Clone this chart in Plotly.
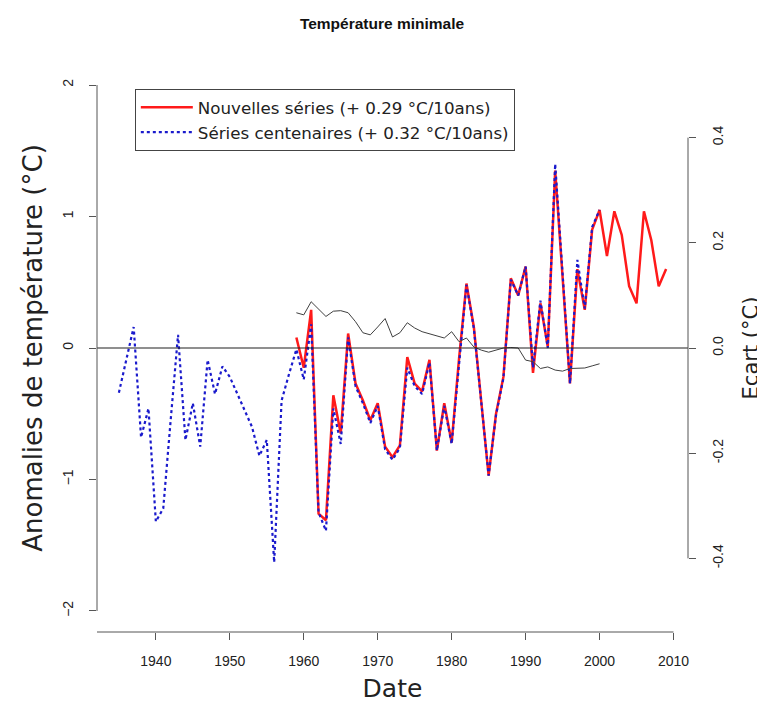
import plotly.graph_objects as go

# ---- data ----
years_cent = list(range(1935, 2001))
cent_values = [-0.34, -0.08, 0.16, -0.68, -0.46, -1.32, -1.22, -0.55, 0.10, -0.70,
               -0.42, -0.75, -0.09, -0.35, -0.14, -0.22, -0.35, -0.47, -0.60, -0.82,
               -0.70, -1.63, -0.40, -0.20, -0.01, -0.24, 0.18, -1.25, -1.39, -0.46,
               -0.73, 0.08, -0.29, -0.42, -0.57, -0.44, -0.77, -0.85, -0.76, -0.15,
               -0.29, -0.35, -0.11, -0.78, -0.44, -0.73, -0.10, 0.48, 0.15, -0.43,
               -0.97, -0.51, -0.23, 0.52, 0.40, 0.62, -0.15, 0.36, 0.00, 1.40,
               0.55, -0.27, 0.67, 0.30, 0.92, 1.05]

years_new = list(range(1959, 2010))
new_values = [0.08, -0.15, 0.29, -1.26, -1.31, -0.36, -0.65, 0.11, -0.27, -0.40,
              -0.55, -0.42, -0.75, -0.83, -0.74, -0.07, -0.27, -0.33, -0.09, -0.78,
              -0.42, -0.72, -0.08, 0.49, 0.16, -0.42, -0.97, -0.50, -0.22, 0.53,
              0.40, 0.62, -0.19, 0.34, 0.01, 1.35, 0.55, -0.27, 0.60, 0.29,
              0.90, 1.05, 0.70, 1.04, 0.86, 0.47, 0.34, 1.04, 0.82, 0.47, 0.60]

years_ecart = list(range(1959, 2001))
ecart_values = [0.067, 0.063, 0.088, 0.073, 0.060, 0.070, 0.071, 0.067, 0.050, 0.029,
                0.025, 0.040, 0.056, 0.021, 0.029, 0.048, 0.038, 0.031, 0.027, 0.023,
                0.019, 0.031, 0.012, 0.019, 0.002, -0.004, -0.008, -0.004, 0.000, 0.001,
                0.000, -0.023, -0.026, -0.039, -0.036, -0.042, -0.044, -0.039, -0.038, -0.038,
                -0.034, -0.030]

x_ticks = [1940, 1950, 1960, 1970, 1980, 1990, 2000, 2010]
y_ticks = [-2, -1, 0, 1, 2]
y2_ticks = [-0.4, -0.2, 0.0, 0.2, 0.4]
y2_labels = ["-0.4", "-0.2", "0.0", "0.2", "0.4"]

x_range = [1932.04, 2011.96]
y_range = [-2.16, 2.16]
y2_range = [-0.54, 0.54]

FONT = "Liberation Sans, Arial, sans-serif"
WIDE = "DejaVu Sans, Liberation Sans, sans-serif"
AXC = "#555555"

# the page body adds an 8px offset; size the figure to compensate
W, H = 757, 695

fig = go.Figure()

fig.add_trace(go.Scatter(
    x=years_ecart, y=ecart_values, yaxis="y2", mode="lines",
    line=dict(color="#404040", width=1), showlegend=False, hoverinfo="skip"))

fig.add_trace(go.Scatter(
    x=years_new, y=new_values, mode="lines",
    name="Nouvelles séries (+ 0.29 °C/10ans)",
    line=dict(color="#ff1a1a", width=2.5)))

fig.add_trace(go.Scatter(
    x=years_cent, y=cent_values, mode="lines",
    name="Séries centenaires (+ 0.32 °C/10ans)",
    line=dict(color="#1a1acc", width=2.2, dash="dot")))

# horizontal zero line
fig.add_shape(type="line", xref="paper", yref="y", x0=0, x1=1, y0=0, y1=0,
              line=dict(color="#202020", width=1.2))
# R-style axis lines (spanning tick range)
fig.add_shape(type="line", xref="paper", yref="y", x0=0, x1=0,
              y0=min(y_ticks), y1=max(y_ticks), line=dict(color=AXC, width=1))
fig.add_shape(type="line", xref="paper", yref="y2", x0=1, x1=1,
              y0=min(y2_ticks), y1=max(y2_ticks), line=dict(color=AXC, width=1))
fig.add_shape(type="line", xref="x", yref="paper", x0=x_range[0], x1=max(x_ticks),
              y0=0, y1=0, line=dict(color=AXC, width=1))

fig.update_layout(
    width=W, height=H,
    margin=dict(l=89, r=77, t=56, b=71, autoexpand=False),
    paper_bgcolor="white", plot_bgcolor="white",
    font=dict(family=FONT, color="#222222", size=14),
    title=dict(text="<b>Température minimale</b>", x=374 / W, xref="container",
               y=1 - 16 / H, yref="container", yanchor="middle", xanchor="center",
               font=dict(size=15.5, color="#111111")),
    xaxis=dict(range=x_range, tickvals=x_ticks, ticks="outside", ticklen=7,
               tickcolor=AXC, showgrid=False, zeroline=False, showline=False,
               tickfont=dict(size=14), ticklabelstandoff=9, automargin=False,
               title=dict(text="Date", font=dict(size=25, family=WIDE), standoff=25)),
    yaxis=dict(range=y_range, tickvals=y_ticks, ticks="outside", ticklen=7,
               tickcolor=AXC, showgrid=False, zeroline=False, showline=False,
               tickangle=-90, tickfont=dict(size=14), ticklabelstandoff=10, automargin=False,
               title=dict(text="Anomalies de température (°C)",
                          font=dict(size=26, family=WIDE), standoff=10)),
    yaxis2=dict(range=y2_range, tickvals=y2_ticks, ticktext=y2_labels, overlaying="y",
                side="right", ticks="outside", ticklen=7, tickcolor=AXC,
                showgrid=False, zeroline=False, showline=False, tickangle=-90,
                tickfont=dict(size=14), ticklabelstandoff=10, automargin=False,
                title=dict(text="Ecart (°C)", font=dict(size=21, family=WIDE), standoff=18)),
    legend=dict(x=0.064, y=(632 - 89) / (632 - 64), xanchor="left", yanchor="top",
                bordercolor="#444444", borderwidth=1, bgcolor="white",
                font=dict(size=16.7, family=WIDE), tracegroupgap=0, itemwidth=52),
    showlegend=True,
)

fig.write_html("out.html")
